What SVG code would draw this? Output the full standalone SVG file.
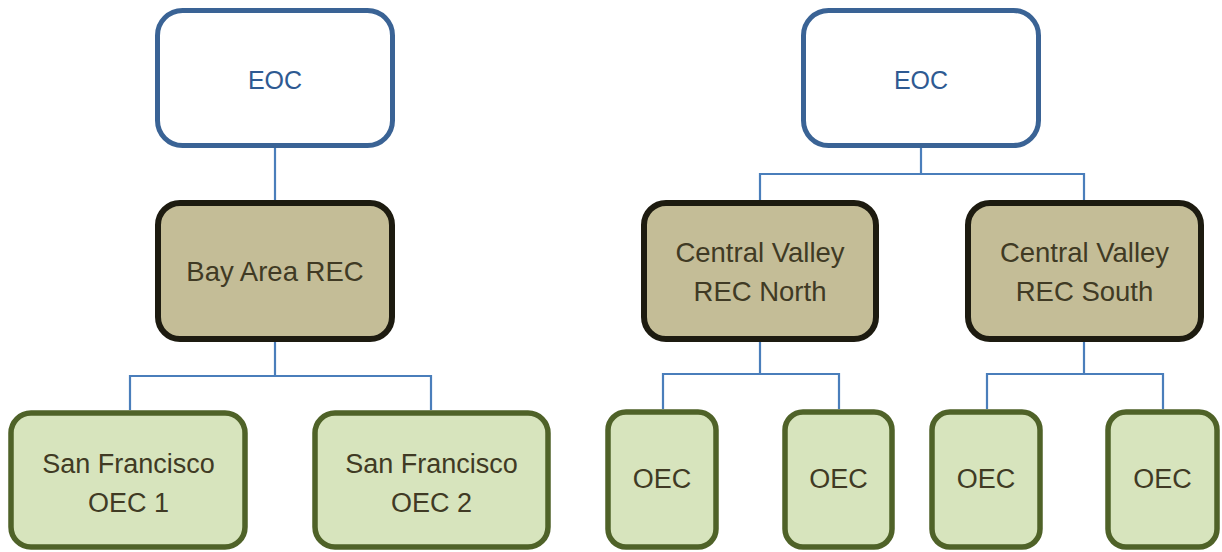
<svg xmlns="http://www.w3.org/2000/svg" width="1222" height="552" viewBox="0 0 1222 552">
<style>
  .eoc rect { fill: #ffffff; stroke: #3a6395; stroke-width: 5; }
  .rec rect { fill: #c4bd97; stroke: #1d1b10; stroke-width: 6; }
  .oec rect { fill: #d7e4bd; stroke: #4f6228; stroke-width: 5.5; }
  text { font-family: "Liberation Sans", Arial, sans-serif; font-size: 27px; text-anchor: middle; }
  .eoc text { fill: #2e5a92; font-size: 25px; }
  .rec text { fill: #403a24; font-size: 27.5px; }
  .oec text { fill: #403a24; }
  .conn path { fill: none; stroke: #4a7ebb; stroke-width: 2.2; }
</style>
<rect width="1222" height="552" fill="#ffffff"/>
<g class="conn" id="connectors">
  <path d="M275 148 V202"/>
  <path d="M275 342 V376 M130 410 V376 H431 V410"/>
  <path d="M921 148 V174 M760 202 V174 H1084 V202"/>
  <path d="M760 342 V374 M663 409 V374 H839 V409"/>
  <path d="M1084 342 V374 M987 409 V374 H1163 V409"/>
</g>
<g class="eoc" id="eoc-left">
  <rect x="157.5" y="10.5" width="235" height="135" rx="25"/>
  <text x="275" y="89">EOC</text>
</g>
<g class="eoc" id="eoc-right">
  <rect x="803.5" y="10.5" width="235" height="135" rx="25"/>
  <text x="921" y="89">EOC</text>
</g>
<g class="rec" id="rec-bay-area">
  <rect x="158" y="203" width="234" height="136" rx="22"/>
  <text x="275" y="281">Bay Area REC</text>
</g>
<g class="rec" id="rec-cv-north">
  <rect x="644" y="203" width="232" height="136" rx="22"/>
  <text x="760" y="262">Central Valley</text>
  <text x="760" y="301">REC North</text>
</g>
<g class="rec" id="rec-cv-south">
  <rect x="968" y="203" width="233" height="136" rx="22"/>
  <text x="1084.5" y="262">Central Valley</text>
  <text x="1084.5" y="301">REC South</text>
</g>
<g class="oec" id="oec-sf1">
  <rect x="11" y="413" width="234" height="134" rx="20"/>
  <text x="128.5" y="473">San Francisco</text>
  <text x="128.5" y="512">OEC 1</text>
</g>
<g class="oec" id="oec-sf2">
  <rect x="315" y="413" width="233" height="134" rx="20"/>
  <text x="431.5" y="473">San Francisco</text>
  <text x="431.5" y="512">OEC 2</text>
</g>
<g class="oec" id="oec-n1">
  <rect x="608" y="412" width="108" height="135" rx="18"/>
  <text x="662" y="488">OEC</text>
</g>
<g class="oec" id="oec-n2">
  <rect x="785" y="412" width="107" height="135" rx="18"/>
  <text x="838.5" y="488">OEC</text>
</g>
<g class="oec" id="oec-s1">
  <rect x="932" y="412" width="108" height="135" rx="18"/>
  <text x="986" y="488">OEC</text>
</g>
<g class="oec" id="oec-s2">
  <rect x="1108" y="412" width="109" height="135" rx="18"/>
  <text x="1162.5" y="488">OEC</text>
</g>
</svg>
